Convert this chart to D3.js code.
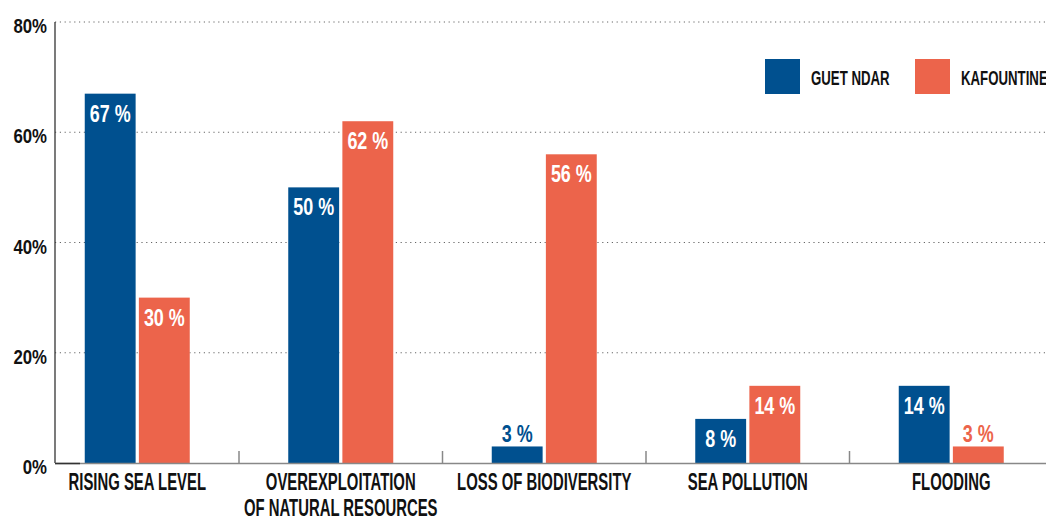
<!DOCTYPE html>
<html>
<head>
<meta charset="utf-8">
<script src="https://cdn.jsdelivr.net/npm/d3@7"></script>
<style>
  html, body { margin: 0; padding: 0; background: #fff; }
  svg text { font-family: 'Liberation Sans', Arial, sans-serif; font-weight: bold; }
</style>
</head>
<body>
<svg id="chart" width="1046" height="518"></svg>
<script>
const categories = [
  ["RISING SEA LEVEL"],
  ["OVEREXPLOITATION", "OF NATURAL RESOURCES"],
  ["LOSS OF BIODIVERSITY"],
  ["SEA POLLUTION"],
  ["FLOODING"]
];
const series = ["GUET NDAR", "KAFOUNTINE"];
const guetNdar = [67, 50, 3, 8, 14];
const kafountine = [30, 62, 56, 14, 3];
const yTicks = [0, 20, 40, 60, 80];
const colors = ["#00508f", "#ec644b"];

const svg = d3.select("#chart");
const catKeys = categories.map(c => c.join(" "));
const values = [guetNdar, kafountine];

const x = d3.scaleBand().domain(catKeys).range([35.5, 1053]).paddingInner(0).paddingOuter(0);
const bw = x.bandwidth();
const xs = d3.scaleBand().domain(series).range([bw / 2 - 52.5, bw / 2 + 52.5]).paddingInner(0.06);
const y = d3.scaleLinear().domain([0, 80]).range([463, 22]);

// condensed text helper: horizontal squeeze to mimic a condensed display face
function ctext(parent, px, py, sx, size, anchor, fill, str) {
  return parent.append("text")
    .attr("transform", `translate(${px},${py}) scale(${sx},1)`)
    .attr("text-anchor", anchor)
    .attr("font-size", size)
    .attr("fill", fill)
    .text(str);
}

// gridlines
svg.append("g").selectAll("line").data(yTicks.filter(d => d > 0)).join("line")
  .attr("x1", 55).attr("x2", 1046)
  .attr("y1", d => y(d)).attr("y2", d => y(d))
  .attr("stroke", "#666").attr("stroke-width", 1)
  .attr("stroke-dasharray", "1.2,3.6");

// y labels
const gy = svg.append("g");
yTicks.forEach(d => ctext(gy, 47, y(d) + 11, 0.8, 21, "end", "#111", d + "%"));

// bars
const groups = svg.append("g").selectAll("g").data(catKeys).join("g")
  .attr("transform", d => `translate(${x(d)},0)`);

groups.each(function (cat, i) {
  const g = d3.select(this);
  series.forEach((s, j) => {
    const v = values[j][i];
    g.append("rect")
      .attr("x", xs(s)).attr("width", xs.bandwidth())
      .attr("y", y(v)).attr("height", y(0) - y(v))
      .attr("fill", colors[j]);
    const inside = (y(0) - y(v)) > 30;
    ctext(g, xs(s) + xs.bandwidth() / 2, inside ? y(v) + 28 : y(v) - 4,
      0.78, 23, "middle", inside ? "#fff" : colors[j], v + " %");
  });
});

// axes lines
svg.append("line").attr("x1", 55).attr("x2", 55).attr("y1", y(80)).attr("y2", y(0))
  .attr("stroke", "#333").attr("stroke-width", 1.3);
svg.append("line").attr("x1", 55).attr("x2", 1046).attr("y1", y(0) + 0.5).attr("y2", y(0) + 0.5)
  .attr("stroke", "#888").attr("stroke-width", 1.5);
svg.append("line").attr("x1", 55).attr("x2", 80).attr("y1", y(0) + 0.5).attr("y2", y(0) + 0.5)
  .attr("stroke", "#333").attr("stroke-width", 1.5);
svg.append("g").selectAll("line").data(catKeys.slice(1)).join("line")
  .attr("x1", d => x(d)).attr("x2", d => x(d))
  .attr("y1", y(0) - 12).attr("y2", y(0))
  .attr("stroke", "#888").attr("stroke-width", 1.5);

// category labels
const gc = svg.append("g");
categories.forEach((lines, i) => {
  const cx = x(catKeys[i]) + bw / 2;
  lines.forEach((ln, k) => ctext(gc, cx, 490 + k * 26, 0.62, 24, "middle", "#111", ln));
});

// legend
const legX = [765, 915];
series.forEach((s, j) => {
  svg.append("rect").attr("x", legX[j]).attr("y", 59).attr("width", 35).attr("height", 35).attr("fill", colors[j]);
  ctext(svg, legX[j] + 46, 85, 0.63, 21, "start", "#111", s);
});
</script>
</body>
</html>
